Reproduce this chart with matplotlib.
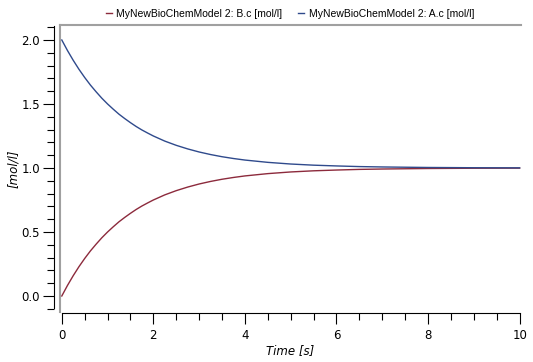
import matplotlib.pyplot as plt
from matplotlib.ticker import MultipleLocator

# valores
time_s = [0, 0.125, 0.25, 0.375, 0.5, 0.625, 0.75, 0.875, 1, 1.125, 1.25, 1.375,
          1.5, 1.625, 1.75, 1.875, 2, 2.25, 2.5, 2.75, 3, 3.25, 3.5, 3.75,
          4, 4.5, 5, 5.5, 6, 6.5, 7, 7.5, 8, 9, 10]
conc_a = [2.000, 1.917, 1.841, 1.771, 1.707, 1.648, 1.595, 1.545, 1.500, 1.459,
          1.420, 1.386, 1.354, 1.324, 1.297, 1.273, 1.250, 1.210, 1.177, 1.149,
          1.125, 1.105, 1.088, 1.074, 1.062, 1.044, 1.031, 1.022, 1.016, 1.011,
          1.008, 1.006, 1.004, 1.002, 1.001]
conc_b = [0.000, 0.083, 0.159, 0.229, 0.293, 0.352, 0.405, 0.455, 0.500, 0.541,
          0.580, 0.614, 0.646, 0.676, 0.703, 0.727, 0.750, 0.790, 0.823, 0.851,
          0.875, 0.895, 0.912, 0.926, 0.938, 0.956, 0.969, 0.978, 0.984, 0.989,
          0.992, 0.994, 0.996, 0.998, 0.999]
label_b = "MyNewBioChemModel 2: B.c [mol/l]"
label_a = "MyNewBioChemModel 2: A.c [mol/l]"

RED = "#8c2a3c"
BLUE = "#2f4a8c"
GRAY = "#a0a0a0"

W, H = 533, 362
fig = plt.figure(figsize=(W / 100, H / 100), dpi=100)
left, right, top, bottom = 59.5, 521, 25, 312
ax = fig.add_axes([left / W, 1 - bottom / H, (right - left) / W, (bottom - top) / H])

ax.plot(time_s, conc_b, color=RED, lw=1, label=label_b)
ax.plot(time_s, conc_a, color=BLUE, lw=1, label=label_a)

ax.set_xlim(-0.05, 10.03)
ax.set_ylim(-0.125, 2.117)

# moldura cinza (topo e esquerda)
ax.plot([0, 1], [1, 1], transform=ax.transAxes, color=GRAY, lw=1.5, clip_on=False)
ax.plot([0, 0], [0, 1], transform=ax.transAxes, color=GRAY, lw=1.5, clip_on=False)

ax.spines["top"].set_visible(False)
ax.spines["right"].set_visible(False)
ax.spines["left"].set_position(("outward", 4))
ax.spines["left"].set_bounds(-0.09, 2.11)
ax.spines["bottom"].set_position(("outward", 1))
ax.spines["bottom"].set_bounds(0, 10)
for s in ("left", "bottom"):
    ax.spines[s].set_color("black")
    ax.spines[s].set_linewidth(0.8)

ax.xaxis.set_minor_locator(MultipleLocator(0.5))
ax.yaxis.set_minor_locator(MultipleLocator(0.1))
ax.set_xticks([0, 2, 4, 6, 8, 10])
ax.set_xticklabels(["0", "2", "4", "6", "8", "10"])
ax.set_yticks([0, 0.5, 1.0, 1.5, 2.0])
ax.set_yticklabels(["0.0", "0.5", "1.0", "1.5", "2.0"])
ax.tick_params(which="major", length=8, width=0.8, labelsize=8.5, pad=2)
ax.tick_params(which="minor", length=5, width=0.8)
ax.tick_params(axis="x", which="major", pad=3)

ax.set_xlabel("Time [s]", fontstyle="italic", fontsize=8.5, labelpad=2)
ax.set_ylabel("[mol/l]", fontstyle="italic", fontsize=8.5, labelpad=1)

fig.legend(loc="center", bbox_to_anchor=(290 / W, 1 - 14 / H), ncol=2,
           frameon=False, handlelength=0.6, handletextpad=0.4,
           columnspacing=1.5, prop={"family": "Liberation Sans", "size": 7.5})

fig.savefig("out.png", dpi=100)
